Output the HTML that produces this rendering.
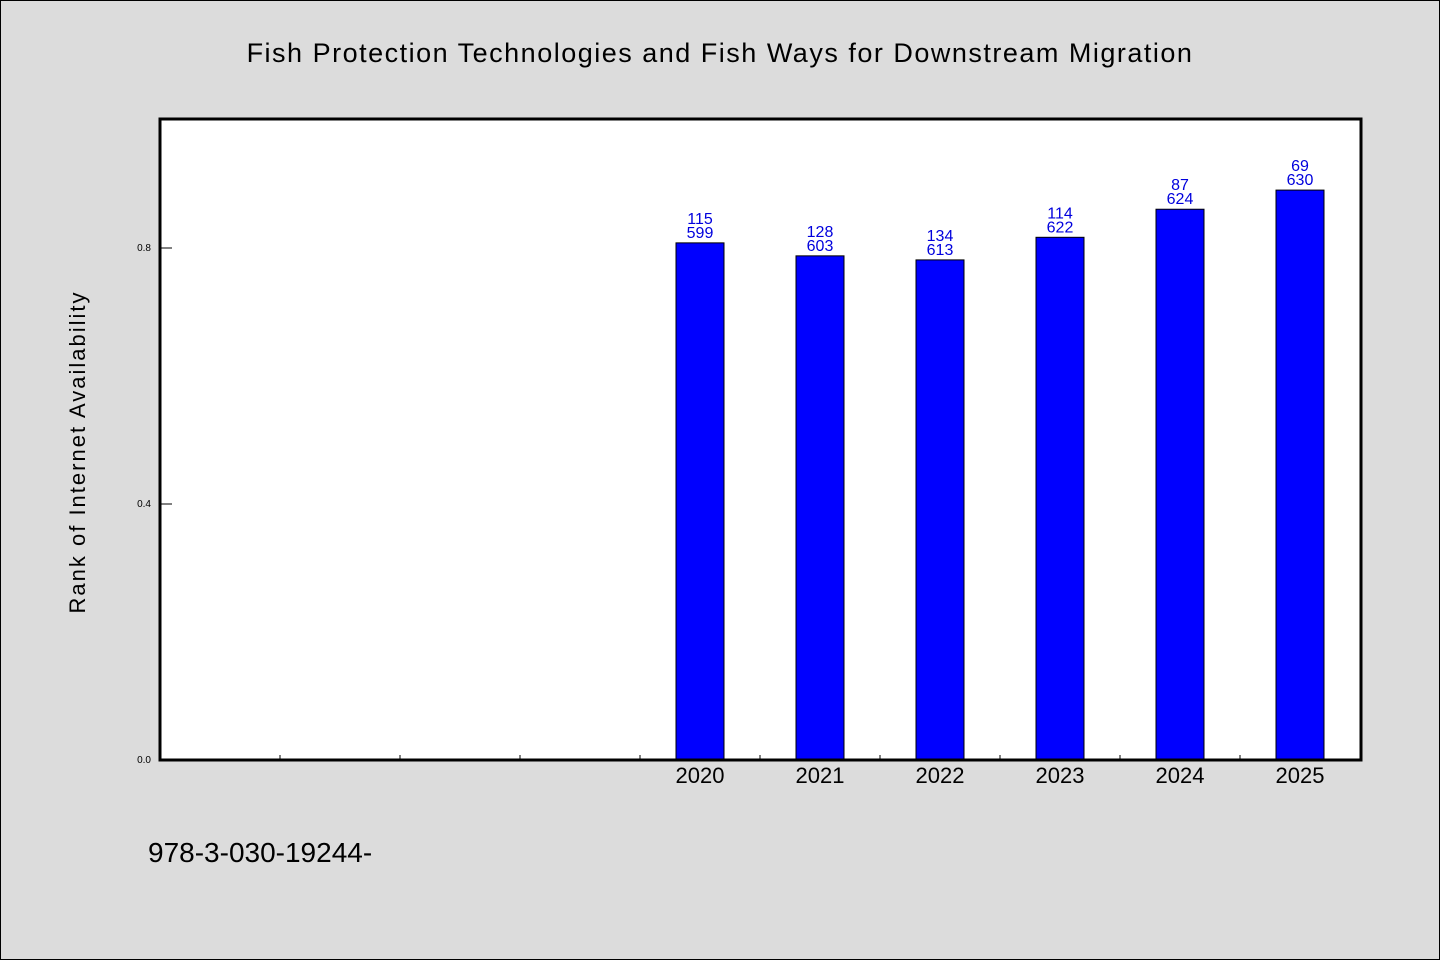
<!DOCTYPE html>
<html><head><meta charset="utf-8"><style>
html,body{margin:0;padding:0;background:#dcdcdc}
svg{display:block}
text{font-family:"WenQuanYi Zen Hei","Liberation Sans",sans-serif}
</style></head><body>
<svg id="chart" width="1440" height="960" xmlns="http://www.w3.org/2000/svg">
<rect x="0.5" y="0.5" width="1439" height="959" fill="#dcdcdc" stroke="#000" stroke-width="1"/>
<text x="720" y="62" font-size="27" text-anchor="middle" letter-spacing="1.5">Fish Protection Technologies and Fish Ways for Downstream Migration</text>
<rect x="160" y="119" width="1201" height="641" fill="#fff"/>
<g id="bars"></g>
<g id="labels"></g>
<g id="ticks"></g>
<rect x="160" y="119" width="1201" height="641" fill="none" stroke="#000" stroke-width="3"/>
<text transform="translate(85,452) rotate(-90)" font-size="22" text-anchor="middle" letter-spacing="2">Rank of Internet Availability</text>
<text x="148" y="862" font-size="28">978-3-030-19244-</text>
</svg>
<script>
const categories=["","","","","2020","2021","2022","2023","2024","2025"];
const ranks=[null,null,null,null,115,128,134,114,87,69];
const totals=[null,null,null,null,599,603,613,622,624,630];
const yTicks=[0.0,0.4,0.8];
const yTickLabels=["0.0","0.4","0.8"];
const NS="http://www.w3.org/2000/svg";
const x0=160,x1=1360,yb=760,yt=120,yMax=1.0;
const slot=(x1-x0)/categories.length;
const xc=i=>x0+slot*(i+0.5);
const y=v=>yb-(v/yMax)*(yb-yt);
function mk(tag,attrs,parent,txt){const e=document.createElementNS(NS,tag);for(const k in attrs)e.setAttribute(k,attrs[k]);if(txt!==undefined)e.textContent=txt;document.getElementById(parent).appendChild(e);return e;}
categories.forEach((c,i)=>{
  if(ranks[i]!==null){
    const v=1-ranks[i]/totals[i];
    const b=mk('rect',{x:xc(i)-24,y:y(v),width:48,height:yb-y(v),fill:'#0000ff',stroke:'#000','stroke-width':1},'bars');
    
    
    const t1=mk('text',{x:xc(i),y:y(v)-19,'font-size':16,fill:'#0000dd','text-anchor':'middle'},'labels',String(ranks[i]));
    
    
    const t2=mk('text',{x:xc(i),y:y(v)-5,'font-size':16,fill:'#0000dd','text-anchor':'middle'},'labels',String(totals[i]));
    
    
  }
  if(c){
    const t=mk('text',{x:xc(i),y:783,'font-size':22,'text-anchor':'middle'},'ticks',c);
    
    
  }
  if(i>0){
    const l=mk('line',{x1:x0+slot*i,x2:x0+slot*i,y1:yb,y2:yb-5,stroke:'#000','stroke-width':1},'ticks');
    
    
  }
});
yTicks.forEach((v,i)=>{
  const l=mk('line',{x1:x0,x2:x0+12,y1:y(v),y2:y(v),stroke:'#000','stroke-width':1},'ticks');
  
  
  const t=mk('text',{x:151,y:y(v)+3,'font-size':10,'text-anchor':'end'},'ticks',yTickLabels[i]);
  
  
});
</script>
</body></html>
